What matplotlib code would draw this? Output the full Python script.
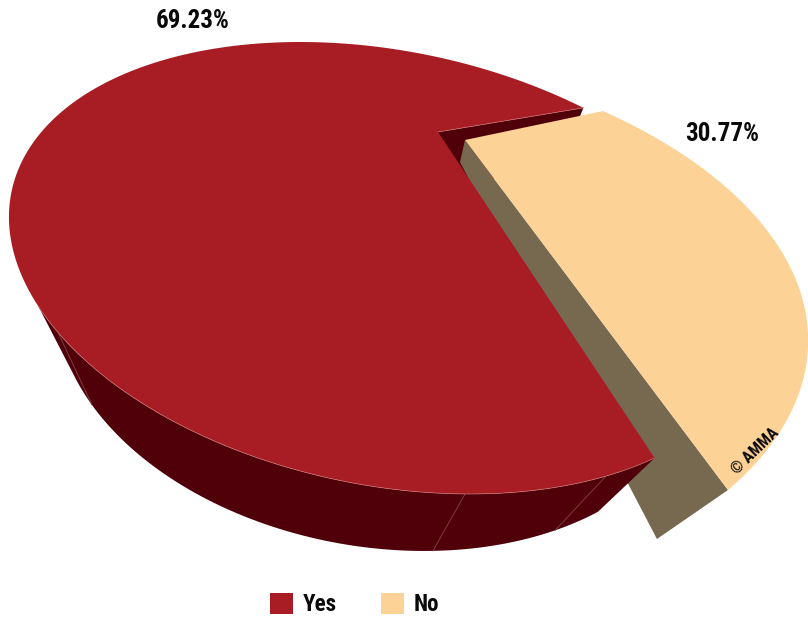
"""
Exploded perspective pie of the Yes / No shares. Each slice top is an
elliptical arc whose sweep comes from its share; foreshortening factors
account for the squeeze on the far side.
"""
import numpy as np
import matplotlib
matplotlib.use('Agg')
import matplotlib.pyplot as plt
from matplotlib.patches import Polygon, Patch

labels = ['Yes', 'No']
shares = [69.23, 30.77]
colors_top = ['#a71d23', '#fdd296']
colors_side = ['#4f0009', '#776950']

# page geometry, in pixels
RED_CENTER, RED_AXES, RED_TILT = (385, 268), (381.2, 217.2), 11.5
RED_APEX = (438, 132)
GAP_DIR = -13.6         # ellipse parameter the small slice points along
RED_SQUEEZE = 0.924
NO_APEX, NO_START, NO_END, NO_MID = (465, 140), (603, 111), (728, 490), (800, 291)
NO_SQUEEZE = 0.722
VANISH = np.array([322.0, 770.0])
# matching parameter / page position pairs on the lower edge of the wall
WALL_DEG = [37.6, 47.4, 71.1, 143.8]
WALL_X = [598, 555, 433, 92]
WALL_Y = [512, 530, 551, 405]
WALL_END_DEG = 150.5
FACET_DEG = [47.4, 71.1, 143.8]
APEX_DROP, NEAR_DROP, BACK_DROP = 0.035, 0.175, 0.09


def red_rim(deg):
    rad, tilt = np.radians(deg), np.radians(RED_TILT)
    u, v = RED_AXES[0] * np.cos(rad), RED_AXES[1] * np.sin(rad)
    return np.column_stack([RED_CENTER[0] + u * np.cos(tilt) - v * np.sin(tilt),
                            RED_CENTER[1] + u * np.sin(tilt) + v * np.cos(tilt)])


def wall_rim(deg):
    # lower wall edge as an affine image of the same parameter
    basis = lambda d: np.column_stack([np.ones(len(d)), np.cos(np.radians(d)), np.sin(np.radians(d))])
    coef_x = np.linalg.lstsq(basis(np.array(WALL_DEG)), np.array(WALL_X, float), rcond=None)[0]
    coef_y = np.linalg.lstsq(basis(np.array(WALL_DEG)), np.array(WALL_Y, float), rcond=None)[0]
    return np.column_stack([basis(deg) @ coef_x, basis(deg) @ coef_y])


def no_rim(half):
    start, end, mid = np.array(NO_START, float), np.array(NO_END, float), np.array(NO_MID, float)
    h = np.radians(half)
    a = (mid - (start + end) / 2) / (1 - np.cos(h))
    b = (end - start) / (2 * np.sin(h))
    center = mid - a
    t = np.linspace(-h, h, 160)
    return center + np.outer(np.cos(t), a) + np.outer(np.sin(t), b)


def drop(p, t):
    p = np.asarray(p, float)
    return p + t * (VANISH - p)


half_gap = shares[1] / 100 * 180
red_start = GAP_DIR + half_gap * RED_SQUEEZE
red_end = GAP_DIR - half_gap * RED_SQUEEZE
rim = red_rim(np.linspace(red_start, red_end + 360, 400))
red_first = red_rim(np.array([red_end]))[0]     # back edge, next to the gap
wall_deg = np.linspace(red_start, WALL_END_DEG, 160)
no_arc = no_rim(half_gap * NO_SQUEEZE)

fig = plt.figure(figsize=(8.08, 6.18), dpi=100)
ax = fig.add_axes([0, 0, 1, 1])
ax.set_xlim(0, 808)
ax.set_ylim(618, 0)
ax.axis('off')

# cut face of the big slice, mostly behind the small one
ax.add_patch(Polygon([RED_APEX, red_first, drop(red_first, BACK_DROP), drop(RED_APEX, BACK_DROP)],
                     fc=colors_side[0], ec='none', zorder=1))
# cut face of the small slice
ax.add_patch(Polygon([NO_APEX, NO_END, drop(NO_END, NEAR_DROP), drop(NO_APEX, APEX_DROP)],
                     fc=colors_side[1], ec='none', zorder=2))
# outer wall of the big slice, with its faint facet lines
ax.add_patch(Polygon(np.vstack([red_rim(wall_deg), wall_rim(wall_deg)[::-1]]),
                     fc=colors_side[0], ec='none', zorder=3))
for a in FACET_DEG:
    seg = np.vstack([red_rim(np.array([a])), wall_rim(np.array([a]))])
    ax.plot(seg[:, 0], seg[:, 1], color='#84444f', lw=0.6, zorder=3.5)

# slice tops
top = np.vstack([[RED_APEX], rim[::-1]])
ax.add_patch(Polygon(top, fc=colors_top[0], ec='none', zorder=4))
ax.plot(*red_rim(wall_deg).T, color='#c96f70', lw=0.5, zorder=4.5)
ax.plot(*np.array([RED_APEX, red_first]).T, color='#c96f70', lw=0.5, zorder=4.5)
ax.add_patch(Polygon(np.vstack([[NO_APEX], no_arc]), fc=colors_top[1], ec='none', zorder=5))

font = ['Roboto Condensed', 'Asap Condensed', 'Liberation Sans']
ax.text(192.5, 21, f'{shares[0]:.2f}%', family=font, weight='bold', fontsize=18,
        ha='center', va='center', color='#0a0a0a')
ax.text(722, 134, f'{shares[1]:.2f}%', family=font, weight='bold', fontsize=18,
        ha='center', va='center', color='#0a0a0a')
ax.text(755, 451, '© AMMA', family=font, weight='bold', fontsize=11.5, rotation=44,
        rotation_mode='anchor', ha='center', va='center', color='#0a0a0a', zorder=6)

handles = [Patch(fc=c, ec='none', label=l) for c, l in zip(colors_top, labels)]
leg = ax.legend(handles=handles, ncol=2, loc='center left',
                bbox_to_anchor=(270 / 808, 1 - 604.5 / 618), frameon=False, borderpad=0,
                borderaxespad=0, handlelength=1.0, handleheight=1.0, handletextpad=0.42,
                columnspacing=1.9, labelcolor='#0a0a0a',
                prop={'family': font, 'weight': 'bold', 'size': 16.6})
leg.set_zorder(10)

fig.savefig('out.png', dpi=100)
